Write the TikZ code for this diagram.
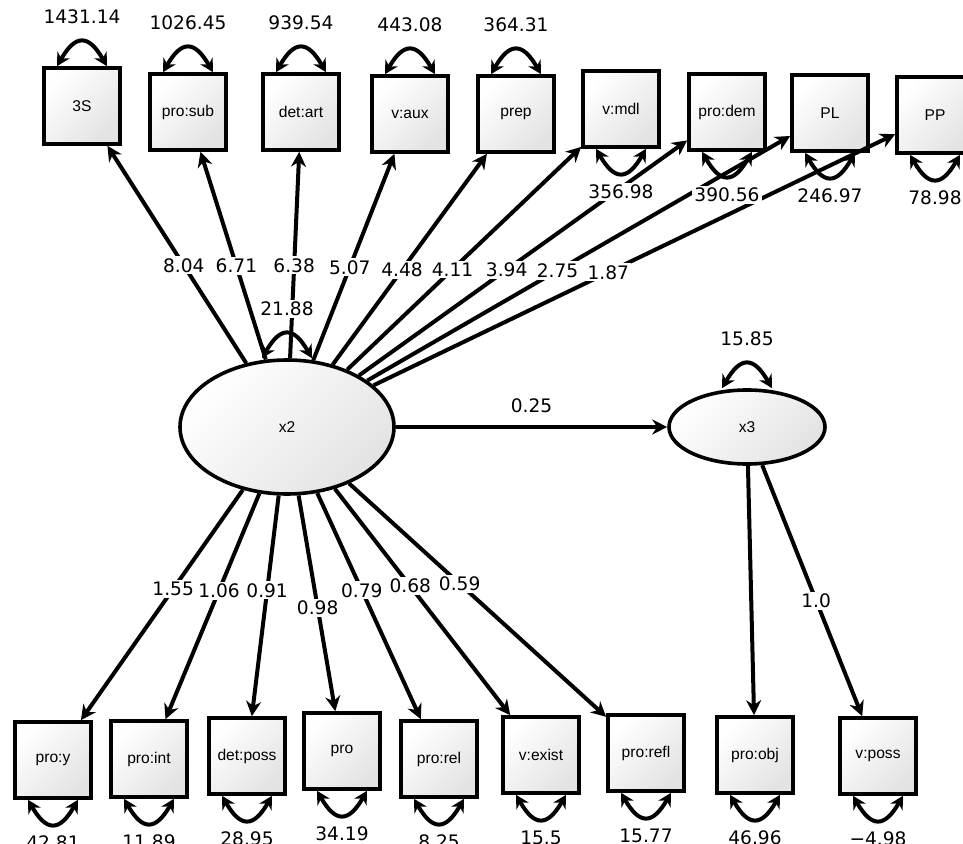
\documentclass[tikz,border=0pt]{standalone}
\usepackage{fontspec}
\newfontfamily\numfont{DejaVu Sans}
\newfontfamily\labfont{Liberation Sans}
\usetikzlibrary{arrows.meta,shapes.geometric}

\begin{document}
\begin{tikzpicture}[
    x=0.5pt, y=0.5pt,
    box/.style={rectangle, draw, line width=1.8pt, minimum size=38pt, inner sep=0pt, top color=white, bottom color=gray!22, shading angle=45, font=\labfont\fontsize{7.8}{9}\selectfont},
    latent/.style={ellipse, draw, line width=1.8pt, inner sep=0pt, top color=white, bottom color=gray!22, shading angle=45, font=\labfont\fontsize{7.8}{9}\selectfont},
    arrow/.style={->, line width=2pt, >={Stealth[length=7.5pt,width=7.5pt]}},
    darrow/.style={<->, line width=2pt, >={Stealth[length=6.5pt,width=7pt]}, looseness=1.9},
    num/.style={fill=white, inner sep=1pt, font=\numfont\fontsize{9.3}{11}\selectfont}
]
    \useasboundingbox (0,0) rectangle (963,-844);

    % latent variables
    \node[latent, minimum width=107pt, minimum height=67pt] (x2) at (287,-427) {x2};
    \node[latent, minimum width=78pt, minimum height=37pt] (x3) at (747,-427) {x3};

    % indicators of x2, top row
    \node[box] (s3) at (82,-106) {3S};
    \node[box] (prosub) at (188,-112) {pro:sub};
    \node[box] (detart) at (301,-112) {det:art};
    \node[box] (vaux) at (410,-114) {v:aux};
    \node[box] (prep) at (516,-114) {prep};
    \node[box] (vmdl) at (621,-109) {v:mdl};
    \node[box] (prodem) at (727,-112) {pro:dem};
    \node[box] (pl) at (830,-113) {PL};
    \node[box] (pp) at (935,-115) {PP};

    % indicators, bottom row
    \node[box] (proy) at (53,-760) {pro:y};
    \node[box] (proint) at (149,-759) {pro:int};
    \node[box] (detposs) at (247,-756) {det:poss};
    \node[box] (pro) at (342,-751) {pro};
    \node[box] (prorel) at (439,-759) {pro:rel};
    \node[box] (vexist) at (541,-755) {v:exist};
    \node[box] (prorefl) at (646,-753) {pro:refl};
    \node[box] (proobj) at (755,-755) {pro:obj};
    \node[box] (vposs) at (878,-756) {v:poss};

    % loadings
    \foreach \n/\v in {s3/8.04, prosub/6.71, detart/6.38, vaux/5.07, prep/4.48, vmdl/4.11, prodem/3.94, pl/2.75, pp/1.87}
        \draw[arrow] (x2) -- node[num, pos=0.45] {\v} (\n);
    \foreach \n/\v in {proy/1.55, proint/1.06, detposs/0.91, prorel/0.79, vexist/0.68, prorefl/0.59}
        \draw[arrow] (x2) -- node[num, pos=0.43] {\v} (\n);
    \draw[arrow] (x2) -- node[num, pos=0.52] {0.98} (pro);
    \draw[arrow] (x2) -- node[num, above=5pt] {0.25} (x3);
    \draw[arrow] (x3) -- (proobj);
    \draw[arrow] (x3) -- node[num, pos=0.54] {1.0} (vposs);

    % variances
    \foreach \n/\v in {s3/1431.14, prosub/1026.45, detart/939.54, vaux/443.08, prep/364.31, x2/21.88, x3/15.85}
        \draw[darrow] ([xshift=-12.5pt]\n.north) to[out=60, in=120] node[num, above=7pt] {\v} ([xshift=12.5pt]\n.north);
    \foreach \n/\v in {vmdl/356.98, prodem/390.56, pl/246.97, pp/78.98, proy/42.81, proint/11.89, detposs/28.95, pro/34.19, prorel/8.25, vexist/15.5, prorefl/15.77, proobj/46.96, vposs/−4.98}
        \draw[darrow] ([xshift=-12.5pt]\n.south) to[out=-60, in=-120] node[num, below=4pt] {\v} ([xshift=12.5pt]\n.south);
\end{tikzpicture}
\end{document}
